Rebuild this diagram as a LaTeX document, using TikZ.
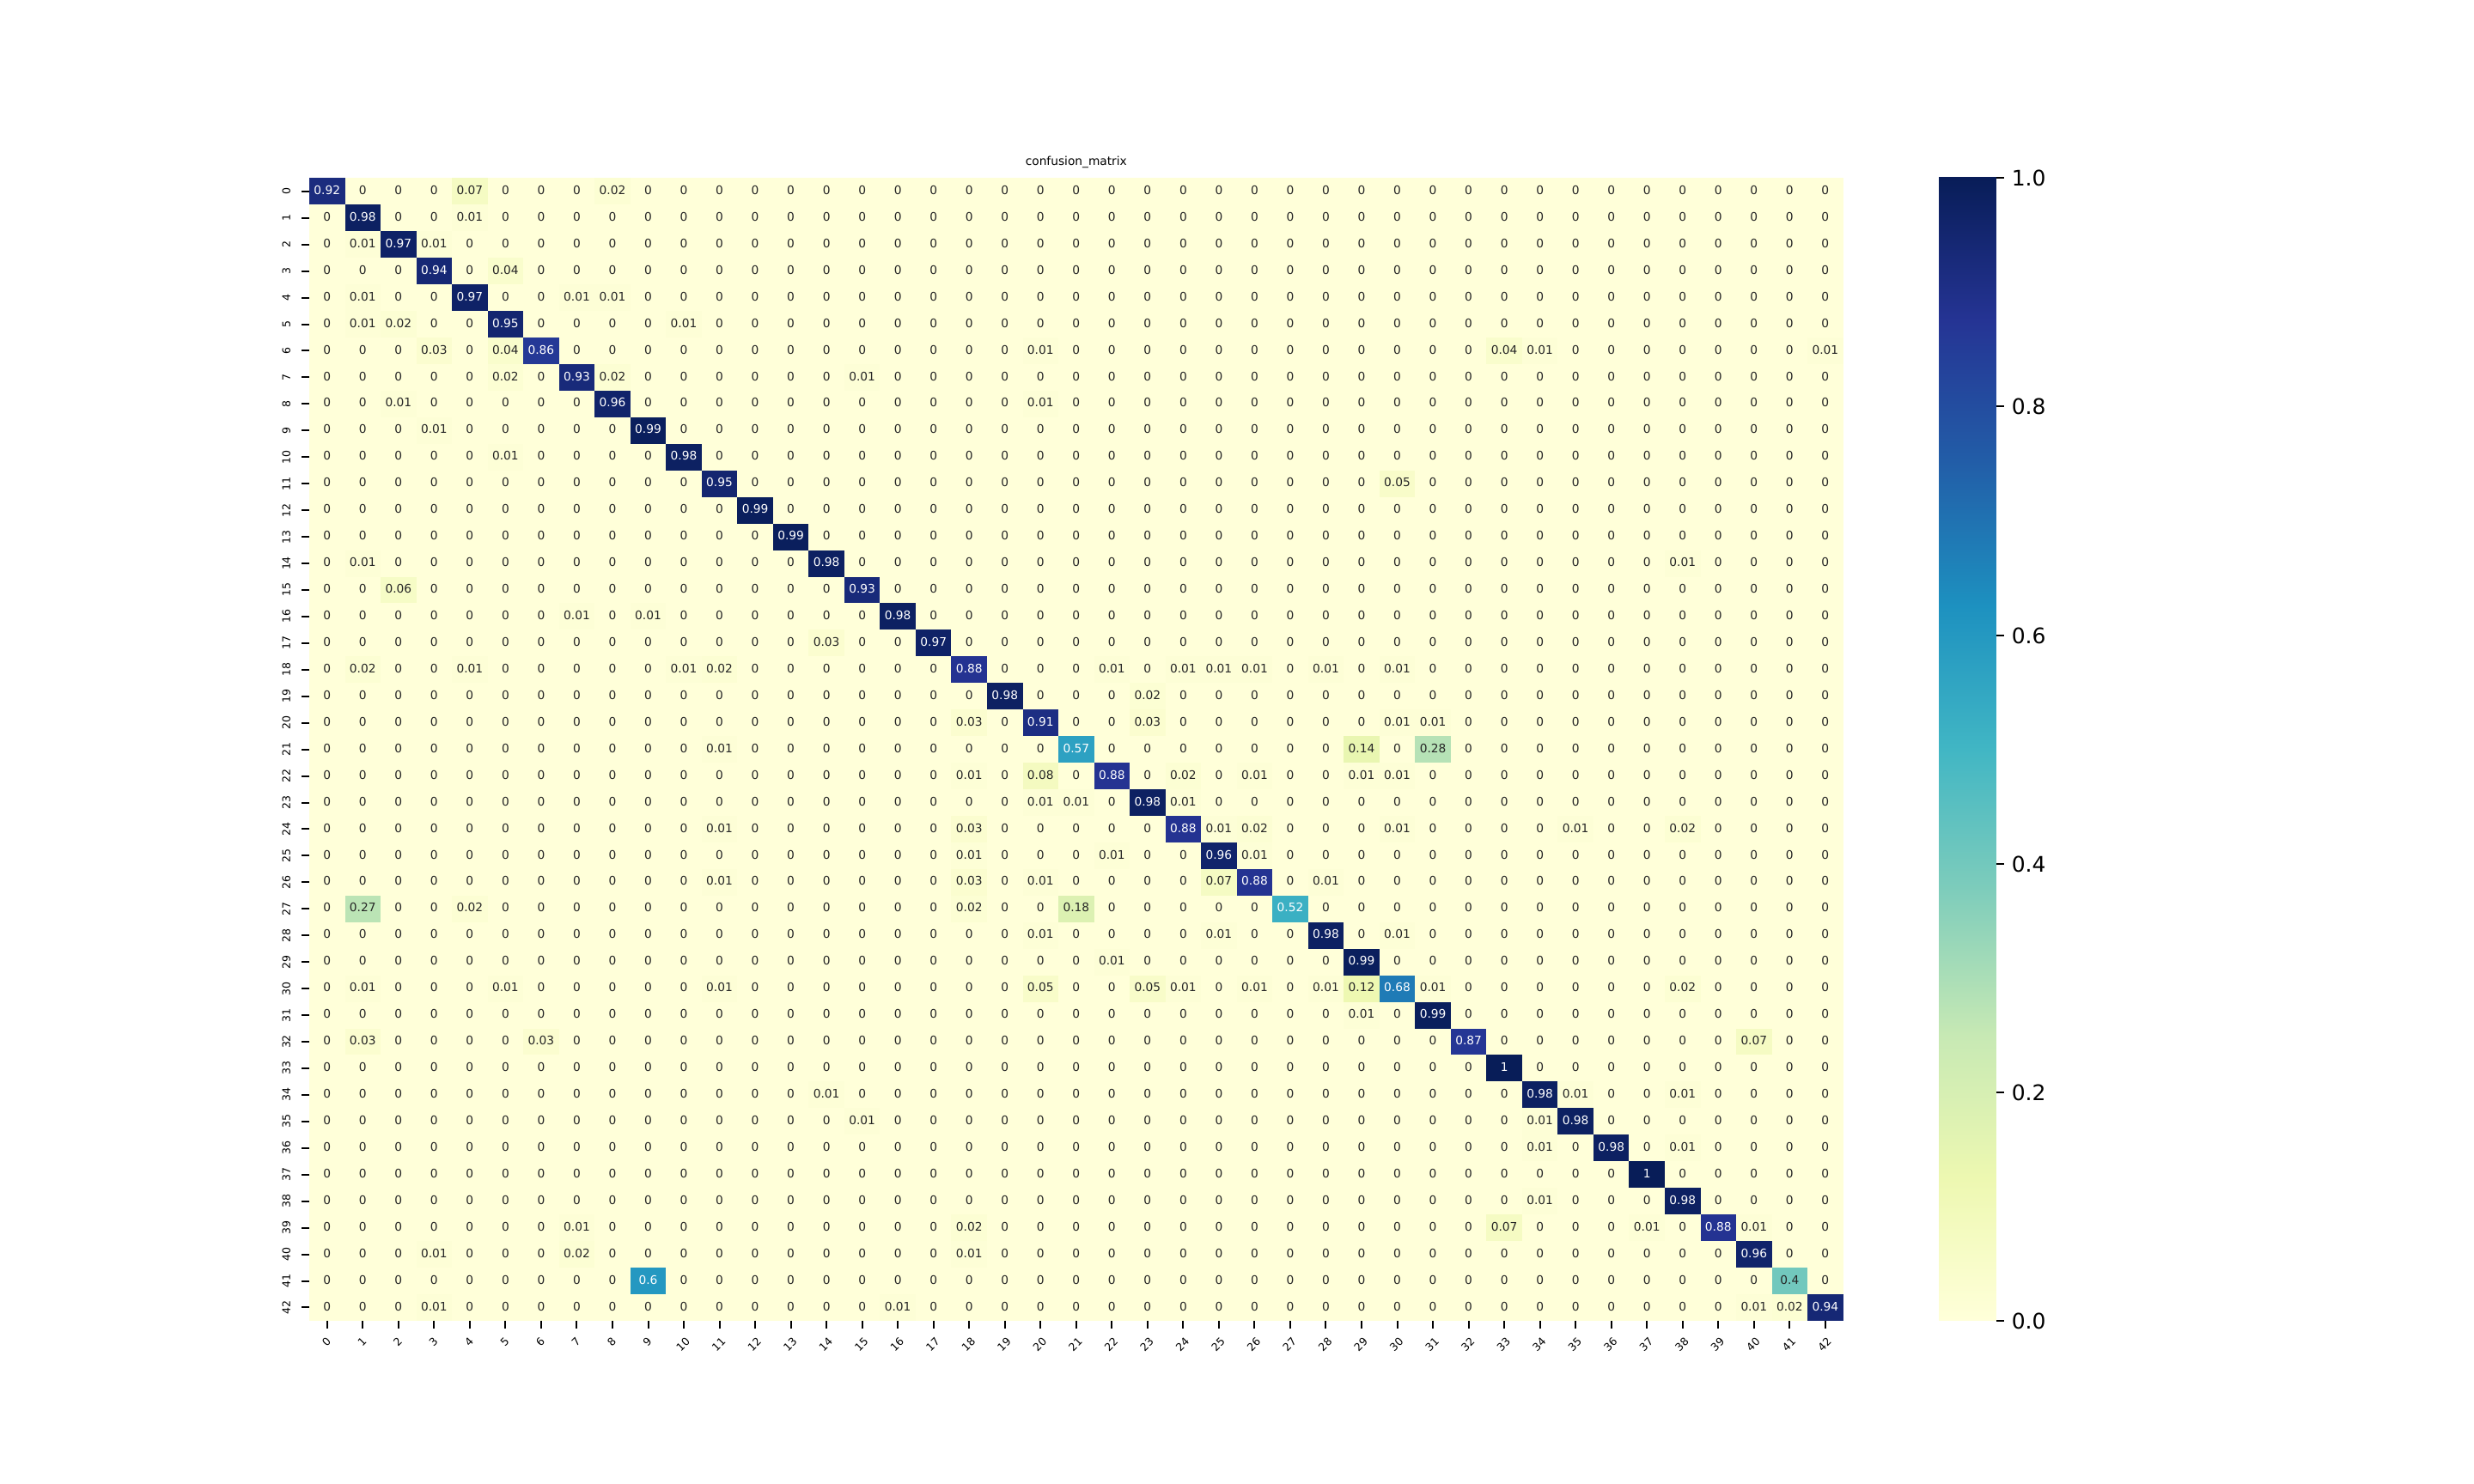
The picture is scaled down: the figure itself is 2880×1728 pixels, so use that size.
\documentclass[tikz,border=0pt]{standalone}
\usepackage{fontspec}
\setmainfont{DejaVu Sans}
\usepackage{tikz}

% YlGnBu colour stops
\definecolor{yl0}{HTML}{FFFFD9}
\definecolor{yl1}{HTML}{EDF8B1}
\definecolor{yl2}{HTML}{C7E9B4}
\definecolor{yl3}{HTML}{7FCDBB}
\definecolor{yl4}{HTML}{41B6C4}
\definecolor{yl5}{HTML}{1D91C0}
\definecolor{yl6}{HTML}{225EA8}
\definecolor{yl7}{HTML}{253494}
\definecolor{yl8}{HTML}{081D58}
\definecolor{txtdark}{HTML}{262626}

\def\cellw{41.5256}
\def\cellh{30.9433}

\tikzset{
  annot/.style={inner sep=0pt, font=\fontsize{5.5bp}{6.6bp}\selectfont, text height=4.18bp, text depth=1.3bp},
  ticklab/.style={inner sep=0pt, font=\fontsize{5bp}{6bp}\selectfont, text height=3.8bp, text depth=1.18bp},
  cblab/.style={inner sep=0pt, font=\fontsize{10bp}{12bp}\selectfont, text height=7.6bp, text depth=0pt},
  axtick/.style={line width=0.8bp, black}
}

\begin{document}
\begin{tikzpicture}[x=0.4bp, y=-0.4bp]
\useasboundingbox (0,0) rectangle (2880,1728);
\fill[white] (0,0) rectangle (2880,1728);

%non-zero entries row/col/value
\foreach \row/\col/\val in {0/0/0.92, 0/4/0.07, 0/8/0.02,
  1/1/0.98, 1/4/0.01,
  2/1/0.01, 2/2/0.97, 2/3/0.01,
  3/3/0.94, 3/5/0.04,
  4/1/0.01, 4/4/0.97, 4/7/0.01, 4/8/0.01,
  5/1/0.01, 5/2/0.02, 5/5/0.95, 5/10/0.01,
  6/3/0.03, 6/5/0.04, 6/6/0.86, 6/20/0.01, 6/33/0.04, 6/34/0.01, 6/42/0.01,
  7/5/0.02, 7/7/0.93, 7/8/0.02, 7/15/0.01,
  8/2/0.01, 8/8/0.96, 8/20/0.01,
  9/3/0.01, 9/9/0.99,
  10/5/0.01, 10/10/0.98,
  11/11/0.95, 11/30/0.05,
  12/12/0.99,
  13/13/0.99,
  14/1/0.01, 14/14/0.98, 14/38/0.01,
  15/2/0.06, 15/15/0.93,
  16/7/0.01, 16/9/0.01, 16/16/0.98,
  17/14/0.03, 17/17/0.97,
  18/1/0.02, 18/4/0.01, 18/10/0.01, 18/11/0.02, 18/18/0.88, 18/22/0.01, 18/24/0.01, 18/25/0.01, 18/26/0.01, 18/28/0.01, 18/30/0.01,
  19/19/0.98, 19/23/0.02,
  20/18/0.03, 20/20/0.91, 20/23/0.03, 20/30/0.01, 20/31/0.01,
  21/11/0.01, 21/21/0.57, 21/29/0.14, 21/31/0.28,
  22/18/0.01, 22/20/0.08, 22/22/0.88, 22/24/0.02, 22/26/0.01, 22/29/0.01, 22/30/0.01,
  23/20/0.01, 23/21/0.01, 23/23/0.98, 23/24/0.01,
  24/11/0.01, 24/18/0.03, 24/24/0.88, 24/25/0.01, 24/26/0.02, 24/30/0.01, 24/35/0.01, 24/38/0.02,
  25/18/0.01, 25/22/0.01, 25/25/0.96, 25/26/0.01,
  26/11/0.01, 26/18/0.03, 26/20/0.01, 26/25/0.07, 26/26/0.88, 26/28/0.01,
  27/1/0.27, 27/4/0.02, 27/18/0.02, 27/21/0.18, 27/27/0.52,
  28/20/0.01, 28/25/0.01, 28/28/0.98, 28/30/0.01,
  29/22/0.01, 29/29/0.99,
  30/1/0.01, 30/5/0.01, 30/11/0.01, 30/20/0.05, 30/23/0.05, 30/24/0.01, 30/26/0.01, 30/28/0.01, 30/29/0.12, 30/30/0.68, 30/31/0.01, 30/38/0.02,
  31/29/0.01, 31/31/0.99,
  32/1/0.03, 32/6/0.03, 32/32/0.87, 32/40/0.07,
  33/33/1,
  34/14/0.01, 34/34/0.98, 34/35/0.01, 34/38/0.01,
  35/15/0.01, 35/34/0.01, 35/35/0.98,
  36/34/0.01, 36/36/0.98, 36/38/0.01,
  37/37/1,
  38/34/0.01, 38/38/0.98,
  39/7/0.01, 39/18/0.02, 39/33/0.07, 39/37/0.01, 39/39/0.88, 39/40/0.01,
  40/3/0.01, 40/7/0.02, 40/18/0.01, 40/40/0.96,
  41/9/0.6, 41/41/0.4,
  42/3/0.01, 42/16/0.01, 42/40/0.01, 42/41/0.02, 42/42/0.94}
  {\expandafter\xdef\csname cm-\row-\col\endcsname{\val}}

%cells
\fill[yl0] (360,207.36) rectangle (2145.6,1537.92);
\foreach \row in {0,...,42}
  \foreach \col in {0,...,42}{
    \edef\val{\ifcsname cm-\row-\col\endcsname\csname cm-\row-\col\endcsname\else0\fi}
    \pgfmathsetmacro{\xa}{360+\col*\cellw}
    \pgfmathsetmacro{\ya}{207.36+\row*\cellh}
    \ifdim\val pt>0pt
      \pgfmathsetmacro{\sv}{8*\val}
      \pgfmathtruncatemacro{\seg}{min(int(\sv),7)}
      \pgfmathtruncatemacro{\segb}{\seg+1}
      \pgfmathsetmacro{\pct}{100*(\sv-\seg)}
      \fill[yl\segb!\pct!yl\seg] (\xa,\ya) rectangle ++(\cellw,\cellh);
    \fi
    \ifdim\val pt<0.45pt \def\tc{txtdark}\else\def\tc{white}\fi
    \node[annot, text=\tc] (c-\row-\col) at (\xa+\cellw/2,\ya+\cellh/2) {\val};
  }

%ticks and tick labels
\foreach \i in {0,...,42}{
  \pgfmathsetmacro{\xm}{360+(\i+0.5)*\cellw}
  \pgfmathsetmacro{\ym}{207.36+(\i+0.5)*\cellh}
  \pgfmathsetmacro{\dx}{\i<10 ? -1.6 : 1.2}
  \coordinate (xt\i) at (\xm,1537.92);
  \draw[axtick] (xt\i) -- ++(0,8.75);
  \node[ticklab, rotate=45, anchor=north east] (xlab\i) at (\xm+\dx,1555.42) {\i};
  \coordinate (yt\i) at (360,\ym);
  \draw[axtick] (yt\i) -- ++(-8.75,0);
  \node[ticklab, text depth=0pt, rotate=90, anchor=south] (ylab\i) at (338.3,\ym) {\i};
}

%colorbar
\foreach \i [evaluate=\i as \j using int(\i+1)] in {0,...,7}
  \shade[bottom color=yl\i, top color=yl\j] (2257.2,{1537.92-\i*166.32}) rectangle (2323.73,{1537.92-(\i+1)*166.32-0.6});
\foreach \tv [count=\n from 0] in {0.0,0.2,0.4,0.6,0.8,1.0}{
  \pgfmathsetmacro{\yc}{1537.92-\tv*1330.56}
  \coordinate (cbt\n) at (2323.73,\yc);
  \draw[axtick] (cbt\n) -- ++(8.75,0);
  \node[cblab, anchor=west] (cbl\n) at (2341.23,\yc) {\tv};
}

\node[inner sep=0pt, font=\fontsize{5.5bp}{6.6bp}\selectfont, anchor=base] (title) at (1252.8,192.36) {confusion\_matrix};
\end{tikzpicture}
\end{document}
